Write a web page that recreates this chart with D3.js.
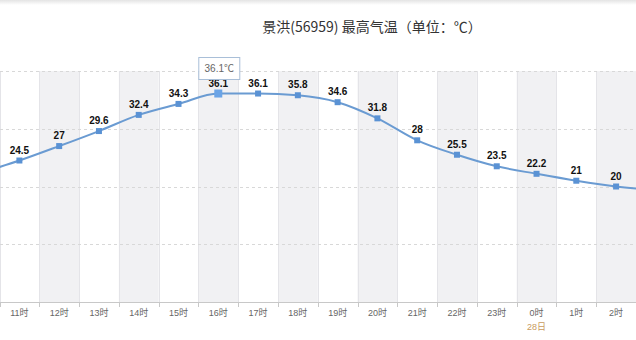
<!DOCTYPE html>
<html><head><meta charset="utf-8">
<script src="https://cdn.jsdelivr.net/npm/d3@7"></script>
<style>html,body{margin:0;padding:0;background:#fff;}svg{display:block;}</style>
</head><body>
<svg id="c" width="636" height="340"></svg>
<script>
const categories = ["10时","11时","12时","13时","14时","15时","16时","17时","18时","19时","20时","21时","22时","23时","0时","1时","2时","3时"];
const values = [22.3,24.5,27,29.6,32.4,34.3,36.1,36.1,35.8,34.6,31.8,28,25.5,23.5,22.2,21,20,19.4];
const yTicks = [0,10,20,30,40];
const dayLabels = {"0时":"28日"};
const title = "景洪(56959) 最高气温（单位：℃）";
const tooltipIndex = 6;
const unit = "℃";

const svg = d3.select("#c");
const W = 636, H = 340;
const plotTop = 71, plotBottom = 302;
const step = 39.78;
const x = d3.scaleBand().domain(categories).range([-0.5 - step, -0.5 - step + step*categories.length]).padding(0);
const y = d3.scaleLinear().domain([0,40]).range([plotBottom, plotTop]);
const center = c => x(c) + x.bandwidth()/2;
const visible = categories.filter(c => center(c) > 0 && center(c) < W);

// top shadow
const defs = svg.append("defs");
const g1 = defs.append("linearGradient").attr("id","sh").attr("x1",0).attr("y1",0).attr("x2",0).attr("y2",1);
g1.append("stop").attr("offset","0%").attr("stop-color","#e4e4e4");
g1.append("stop").attr("offset","100%").attr("stop-color","#ffffff");
svg.append("rect").attr("x",0).attr("y",0).attr("width",W).attr("height",5).attr("fill","url(#sh)");
defs.append("clipPath").attr("id","clip").append("rect").attr("x",0).attr("y",0).attr("width",W).attr("height",H);

const root = svg.append("g").attr("clip-path","url(#clip)");

// alternating column bands
root.selectAll("rect.band").data(categories.filter((d,i)=>i%2===0))
  .join("rect").attr("class","band")
  .attr("x",d=>x(d)).attr("y",plotTop).attr("width",x.bandwidth()).attr("height",plotBottom-plotTop)
  .attr("fill","#f1f1f3");
// column boundaries
root.selectAll("line.vb").data(categories)
  .join("line").attr("class","vb")
  .attr("x1",d=>Math.round(x(d))+0.5).attr("x2",d=>Math.round(x(d))+0.5)
  .attr("y1",plotTop).attr("y2",plotBottom)
  .attr("stroke","#e4e4e8").attr("stroke-width",1);

// horizontal dashed grid
root.selectAll("line.hg").data(yTicks.filter(t=>t>0))
  .join("line").attr("class","hg")
  .attr("x1",0).attr("x2",W)
  .attr("y1",d=>Math.round(y(d))+0.5).attr("y2",d=>Math.round(y(d))+0.5)
  .attr("stroke","#d8d8d8").attr("stroke-dasharray","3,3");

// x axis
const xAxis = d3.axisBottom(x).tickValues(visible).tickSize(0).tickFormat(d=>d);
const ax = root.append("g").attr("transform",`translate(0,${plotBottom})`).call(xAxis);
ax.select(".domain").attr("stroke","#c8c8c8");
ax.selectAll(".tick text").attr("dy",null).attr("y",14)
  .attr("fill","#666").attr("font-size","9px")
  .attr("font-family","'Liberation Sans','Noto Sans CJK SC',sans-serif");
// boundary tick marks
root.selectAll("line.bt").data(categories)
  .join("line").attr("class","bt")
  .attr("x1",d=>Math.round(x(d))+0.5).attr("x2",d=>Math.round(x(d))+0.5)
  .attr("y1",plotBottom).attr("y2",plotBottom+5)
  .attr("stroke","#c8c8c8");
// day labels
root.selectAll("text.day").data(visible.filter(d=>dayLabels[d]))
  .join("text").attr("class","day")
  .attr("x",d=>center(d)).attr("y",plotBottom+28)
  .attr("text-anchor","middle").attr("fill","#c99b5e").attr("font-size","9px")
  .attr("font-family","'Liberation Sans','Noto Sans CJK SC',sans-serif")
  .text(d=>dayLabels[d]);

// line
const cx = (d,i)=>center(categories[i]);
const line = d3.line().x((d,i)=>cx(d,i)).y(d=>y(d)).curve(d3.curveMonotoneX);
root.append("path").datum(values).attr("d",line)
  .attr("fill","none").attr("stroke","#6a9bd2").attr("stroke-width",2);

// markers
root.selectAll("rect.mk").data(values)
  .join("rect").attr("class","mk")
  .attr("x",(d,i)=>cx(d,i)-(i===tooltipIndex?4:3))
  .attr("y",(d,i)=>y(d)-(i===tooltipIndex?4:3))
  .attr("width",(d,i)=>i===tooltipIndex?8:6)
  .attr("height",(d,i)=>i===tooltipIndex?8:6)
  .attr("fill",(d,i)=>i===tooltipIndex?"#6ba4e6":"#5a92d4");

// data labels (only for visible categories)
const labelData = values.map((v,i)=>({v,i})).filter(o=>visible.includes(categories[o.i]));
root.selectAll("text.lbl").data(labelData)
  .join("text").attr("class","lbl")
  .attr("x",o=>cx(o.v,o.i)).attr("y",o=>y(o.v)-7)
  .attr("text-anchor","middle").attr("font-size","10px").attr("font-weight","bold")
  .attr("fill","#111").attr("font-family","'Liberation Sans',Arial,sans-serif")
  .text(o=>o.v);

// title
svg.append("text").attr("x",372).attr("y",32).attr("text-anchor","middle")
  .attr("font-size","14px").attr("fill","#333")
  .attr("font-family","'Noto Sans CJK SC',sans-serif").text(title);

// tooltip
const tx = cx(values[tooltipIndex],tooltipIndex);
const tt = svg.append("g");
tt.append("rect").attr("x",tx-19.5).attr("y",57.5).attr("width",41).attr("height",22)
  .attr("fill","#fff").attr("fill-opacity",0.95).attr("stroke","#a9bfd8").attr("stroke-width",1);
tt.append("text").attr("x",tx+1).attr("y",72).attr("text-anchor","middle")
  .attr("font-size","10px").attr("fill","#666")
  .attr("font-family","'Liberation Sans','Noto Sans CJK SC',sans-serif")
  .text(values[tooltipIndex] + unit);
</script>
</body></html>
